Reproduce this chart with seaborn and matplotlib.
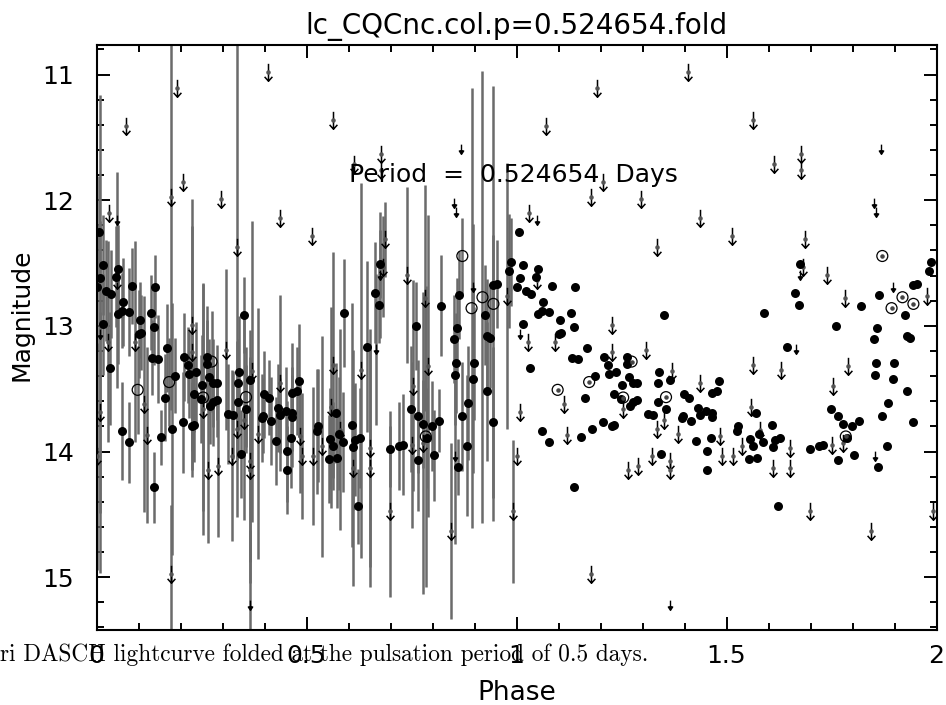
import numpy as np
import pandas as pd
import matplotlib
matplotlib.use("Agg")
import matplotlib.pyplot as plt
import seaborn as sns
from matplotlib.path import Path

title = "lc_CQCnc.col.p=0.524654.fold"
period_text = "Period  =  0.524654  Days"
caption = "ri DASCH lightcurve folded at the pulsation period of 0.5 days."
x_label = "Phase"
y_label = "Magnitude"
x_ticks = [0, 0.5, 1, 1.5, 2]
x_tick_labels = ["0", "0.5", "1", "1.5", "2"]
y_ticks = [11, 12, 13, 14, 15]
y_tick_labels = ["11", "12", "13", "14", "15"]

# detections (filled dots): phase in [0,1), magnitude, error
dot_phase = [0.007, 0.015, 0.052, 0.008, 0.046, 0.002, 0.023, 0.034, 0.085, 0.139,
             0.064, 0.050, 0.060, 0.077, 0.104, 0.129, 0.350, 0.015, 0.138, 0.100,
             0.105, 0.167, 0.131, 0.147, 0.209, 0.262, 0.217, 0.262, 0.032, 0.187,
             0.220, 0.237, 0.269, 0.340, 0.250, 0.278, 0.286, 0.336, 0.365, 0.483,
             0.465, 0.477, 0.163, 0.233, 0.249, 0.286, 0.278, 0.270, 0.336, 0.399,
             0.411, 0.355, 0.431, 0.312, 0.326, 0.397, 0.393, 0.437, 0.451, 0.465,
             0.465, 0.415, 0.207, 0.227, 0.233, 0.179, 0.061, 0.077, 0.153, 0.427,
             0.463, 0.343, 0.453, 0.453, 0.137, 0.675, 0.986, 0.983, 0.945, 0.953,
             0.663, 0.673, 0.864, 0.820, 0.590, 0.925, 0.760, 0.858, 0.850, 0.929,
             0.937, 0.645, 0.855, 0.899, 0.854, 0.897, 0.929, 0.884, 0.748, 0.570,
             0.765, 0.870, 0.943, 0.778, 0.798, 0.816, 0.609, 0.528, 0.524, 0.556,
             0.578, 0.586, 0.564, 0.615, 0.627, 0.611, 0.788, 0.699, 0.720, 0.729,
             0.881, 0.554, 0.573, 0.766, 0.804, 0.861, 0.623]
dot_mag = [12.255, 12.515, 12.549, 12.616, 12.608, 12.688, 12.720, 12.746, 12.682, 12.688,
           12.807, 12.907, 12.878, 12.886, 12.952, 12.894, 12.913, 12.987, 13.010, 13.064,
           13.053, 13.177, 13.252, 13.262, 13.249, 13.244, 13.310, 13.304, 13.336, 13.397,
           13.384, 13.371, 13.408, 13.371, 13.469, 13.455, 13.451, 13.451, 13.429, 13.435,
           13.535, 13.517, 13.570, 13.543, 13.580, 13.588, 13.609, 13.636, 13.609, 13.546,
           13.570, 13.662, 13.654, 13.702, 13.707, 13.715, 13.733, 13.713, 13.681, 13.694,
           13.725, 13.760, 13.768, 13.795, 13.787, 13.821, 13.840, 13.927, 13.888, 13.914,
           13.892, 14.019, 13.999, 14.144, 14.285, 12.510, 12.489, 12.563, 12.674, 12.666,
           12.735, 12.833, 12.754, 12.839, 12.894, 12.913, 13.000, 13.018, 13.106, 13.080,
           13.093, 13.165, 13.296, 13.296, 13.389, 13.424, 13.522, 13.614, 13.660, 13.694,
           13.721, 13.721, 13.768, 13.779, 13.795, 13.753, 13.787, 13.795, 13.840, 13.898,
           13.858, 13.924, 13.954, 13.906, 13.892, 13.967, 13.892, 13.980, 13.959, 13.946,
           13.954, 14.059, 14.051, 14.070, 14.031, 14.123, 14.436]
dot_err = [0.45, 0.40, 0.35, 0.45, 0.40, 0.50, 0.40, 0.35, 0.30, 0.25,
           0.35, 0.40, 0.30, 0.35, 0.30, 0.30, 0.30, 0.40, 0.30, 0.35,
           0.30, 0.35, 0.30, 0.35, 0.35, 0.40, 0.30, 0.35, 0.45, 0.30,
           0.35, 0.40, 0.30, 0.45, 0.40, 0.35, 0.30, 0.35, 0.40, 0.45,
           0.40, 0.35, 0.35, 0.30, 0.35, 0.30, 0.35, 0.30, 0.40, 0.35,
           0.30, 0.35, 0.35, 0.40, 0.35, 0.30, 0.35, 0.30, 0.35, 0.30,
           0.40, 0.35, 0.40, 0.35, 0.30, 1.00, 0.39, 0.32, 0.22, 0.35,
           0.40, 0.35, 0.40, 0.35, 0.28, 0.27, 0.35, 0.45, 0.40, 0.35,
           0.40, 0.30, 0.35, 0.40, 0.43, 0.40, 0.35, 0.40, 0.35, 0.45,
           0.40, 0.68, 0.40, 0.45, 0.40, 0.75, 0.55, 0.45, 0.50, 0.40,
           0.45, 0.43, 0.60, 0.35, 0.36, 0.25, 0.97, 0.45, 0.50, 0.40,
           0.45, 0.40, 0.35, 0.45, 0.40, 0.50, 0.40, 0.30, 0.35, 0.40,
           0.56, 0.35, 0.40, 0.40, 0.36, 0.22, 0.30]

# open circles
open_phase = [0.098, 0.173, 0.274, 0.254, 0.356, 0.871, 0.919, 0.893, 0.945, 0.784]
open_mag = [13.509, 13.447, 13.284, 13.570, 13.567, 12.444, 12.772, 12.859, 12.825, 13.880]
open_err = [0.35, 0.35, 0.40, 0.90, 0.40, 0.30, 1.80, 1.75, 1.73, 1.20]

# upper limits (large arrows)
lim_phase = [0.409, 0.191, 0.070, 0.207, 0.177, 0.296, 0.030, 0.437, 0.334, 0.228,
             0.048, 0.028, 0.092, 0.228, 0.308, 0.371, 0.437, 0.114, 0.008, 0.254,
             0.352, 0.335, 0.120, 0.385, 0.485, 0.000, 0.322, 0.365, 0.365, 0.489,
             0.265, 0.290, 0.991, 0.177, 0.562, 0.613, 0.677, 0.677, 0.514, 0.687,
             0.681, 0.740, 0.782, 0.978, 0.564, 0.629, 0.789, 0.754, 0.558, 0.580,
             0.536, 0.651, 0.750, 0.778, 0.516, 0.610, 0.651, 0.699, 0.843]
lim_mag = [10.979, 11.111, 11.411, 11.853, 11.973, 11.993, 12.100, 12.144, 12.370, 12.992,
           12.635, 13.125, 13.125, 13.204, 13.191, 13.363, 13.451, 13.620, 13.689, 13.662,
           13.747, 13.821, 13.866, 13.858, 13.880, 14.039, 14.033, 14.078, 14.144, 14.033,
           14.144, 14.118, 14.476, 14.977, 11.363, 11.713, 11.636, 11.760, 12.285, 12.311,
           12.529, 12.595, 12.780, 12.762, 13.310, 13.355, 13.318, 13.477, 13.646, 13.826,
           13.959, 13.972, 13.946, 13.932, 14.033, 14.131, 14.131, 14.476, 14.634]
lim_err = [0.0, 0.0, 0.0, 0.0, 1.70, 0.0, 0.0, 0.0, 1.70, 1.00,
           0.86, 0.80, 0.80, 1.00, 0.64, 1.20, 0.70, 0.86, 0.80, 1.00,
           0.80, 0.70, 0.70, 1.00, 0.45, 0.90, 0.68, 0.80, 0.90, 0.50,
           0.58, 0.56, 0.57, 0.55, 0.0, 0.0, 0.0, 0.0, 0.0, 0.30,
           0.40, 0.70, 0.90, 1.06, 0.90, 1.49, 1.20, 0.84, 0.80, 0.80,
           0.88, 0.95, 0.66, 1.20, 0.55, 0.94, 0.95, 0.68, 0.70]

# upper limits (small arrows)
slim_phase = [0.048, 0.008, 0.868, 0.852, 0.855, 0.675, 0.896, 0.665, 0.854, 0.365]
slim_mag = [12.158, 13.064, 11.596, 12.025, 12.092, 12.595, 12.693, 13.185, 14.039, 15.225]
slim_err = [0.0, 1.90, 0.0, 0.0, 0.0, 0.50, 0.50, 0.60, 0.70, 0.60]

sns.set_theme(style="ticks")
plt.rcParams['font.family'] = ['DejaVu Sans']
plt.rcParams.update({"text.color": "black", "axes.labelcolor": "black",
                     "xtick.color": "black", "ytick.color": "black",
                     "axes.edgecolor": "black"})

W, H = 946, 705
fig = plt.figure(figsize=(W / 100, H / 100), dpi=100)
ax = fig.add_axes([96.5 / W, 1 - 630 / H, 840 / W, 585 / H])

bar_kw = dict(fmt='none', ecolor='#6b6b6b', elinewidth=1.8, capsize=0, zorder=1)
ax.errorbar(dot_phase, dot_mag, yerr=dot_err, **bar_kw)
ax.errorbar(open_phase, open_mag, yerr=open_err, **bar_kw)
ax.errorbar(lim_phase, lim_mag, yerr=lim_err, **bar_kw)
ax.errorbar(slim_phase, slim_mag, yerr=slim_err, **bar_kw)

def both(ph, mg):
    return pd.DataFrame({"phase": list(ph) + [p + 1 for p in ph],
                         "mag": list(mg) + list(mg)})

dots = both(dot_phase, dot_mag)
sns.scatterplot(data=dots, x="phase", y="mag", color="black", s=42,
                linewidth=0, ax=ax, zorder=4, legend=False)

opens = both(open_phase, open_mag)
ax.scatter(opens["phase"], opens["mag"], s=62, facecolors="none",
           edgecolors="black", linewidths=0.9, zorder=4)
ax.scatter([p + 1 for p in open_phase], open_mag, s=5, color="#444444", zorder=5)

arrow = Path([(0, 1), (0, -1), (-0.45, -0.5), (0, -1), (0.45, -0.5)],
             [Path.MOVETO, Path.LINETO, Path.MOVETO, Path.LINETO, Path.LINETO])
small_arrow = Path([(0, 1), (0, -0.3), (-0.45, -0.3), (0.45, -0.3), (0, -1), (-0.45, -0.3)],
                   [Path.MOVETO, Path.LINETO, Path.MOVETO, Path.LINETO, Path.LINETO, Path.CLOSEPOLY])

lims = both(lim_phase, lim_mag)
ax.plot(lims["phase"], lims["mag"], ls="none", marker=arrow, ms=12.5,
        mfc="none", mec="black", mew=1.1, zorder=3)
ax.scatter(lims["phase"], lims["mag"], s=5, color="#555555", zorder=3)

slims = both(slim_phase, slim_mag)
ax.plot(slims["phase"], slims["mag"], ls="none", marker=small_arrow, ms=7,
        mfc="black", mec="black", mew=1.0, zorder=3)

ax.set_xlim(0, 2)
ax.set_ylim(15.42, 10.765)
ax.set_xticks(x_ticks)
ax.set_xticklabels(x_tick_labels)
ax.set_yticks(y_ticks)
ax.set_yticklabels(y_tick_labels)
ax.set_xticks(np.arange(0, 2.001, 0.1), minor=True)
ax.set_yticks(np.arange(10.8, 15.41, 0.2), minor=True)
ax.tick_params(which="both", direction="in", top=True, right=True,
               width=1.4, color="black")
ax.tick_params(which="major", length=9.5, labelsize=18)
ax.tick_params(axis="x", which="major", pad=10)
ax.tick_params(axis="y", which="major", pad=16)
ax.tick_params(which="minor", length=5)
for sp in ax.spines.values():
    sp.set_linewidth(1.5)
    sp.set_color("black")

ax.set_xlabel(x_label, fontsize=19, labelpad=9)
ax.set_ylabel(y_label, fontsize=18)
ax.yaxis.set_label_coords((34 - 96.5) / 840, (630 - 315) / 585)
ax.set_title(title, fontsize=20, pad=8)
ax.text(0.60, 11.80, period_text, fontsize=18, va="center", ha="left", zorder=6)

fig.text(0.0, 1 - 655 / H, caption, fontfamily="cmr10", fontsize=16.8,
         va="center", ha="left")

fig.savefig("out.png", dpi=100)
